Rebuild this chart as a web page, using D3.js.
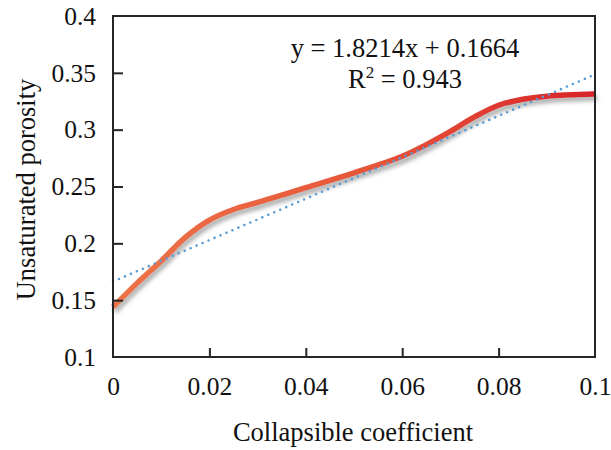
<!DOCTYPE html>
<html>
<head>
<meta charset="utf-8">
<script src="https://cdn.jsdelivr.net/npm/d3@7"></script>
<style>
  body { margin: 0; background: #fff; }
  svg { display: block; }
  svg text { font-family: "Liberation Serif", "Times New Roman", serif; fill: #111; }
</style>
</head>
<body>
<svg width="611" height="450"></svg>
<script>
// values
const coeff = [0, 0.005, 0.01, 0.015, 0.02, 0.025, 0.03, 0.04, 0.05, 0.06, 0.065, 0.07, 0.075, 0.08, 0.085, 0.09, 0.1];
const porosity = [0.144, 0.165, 0.1845, 0.2053, 0.2205, 0.2298, 0.236, 0.249, 0.262, 0.2766, 0.2868, 0.2985, 0.3112, 0.3215, 0.3268, 0.3295, 0.3313];
const xTicks = [0, 0.02, 0.04, 0.06, 0.08, 0.1];
const yTicks = [0.1, 0.15, 0.2, 0.25, 0.3, 0.35, 0.4];
const slope = 1.8214, intercept = 0.1664;

const svg = d3.select("svg");
const plotL = 113, plotR = 595, plotT = 16, plotB = 357;

const x = d3.scaleLinear().domain([0, 0.1]).range([plotL, plotR]);
const y = d3.scaleLinear().domain([0.1, 0.4]).range([plotB, plotT]);

const defs = svg.append("defs");

// shadow under the curve
const shadow = defs.append("filter").attr("id", "shadow")
  .attr("x", "-10%").attr("y", "-10%").attr("width", "120%").attr("height", "130%");
shadow.append("feDropShadow")
  .attr("dx", 2).attr("dy", 4).attr("stdDeviation", 2)
  .attr("flood-color", "#808080").attr("flood-opacity", 0.65);

// orange -> red along x
const grad = defs.append("linearGradient").attr("id", "lineGrad")
  .attr("gradientUnits", "userSpaceOnUse")
  .attr("x1", x(0)).attr("x2", x(0.1)).attr("y1", 0).attr("y2", 0);
grad.append("stop").attr("offset", "0%").attr("stop-color", "#ee7448");
grad.append("stop").attr("offset", "55%").attr("stop-color", "#e65438");
grad.append("stop").attr("offset", "100%").attr("stop-color", "#d8232a");

// main curve
const line = d3.line()
  .curve(d3.curveCatmullRom.alpha(0.5))
  .x((d, i) => x(coeff[i]))
  .y(d => y(d));

svg.append("path")
  .attr("d", line(porosity))
  .attr("fill", "none")
  .attr("stroke", "url(#lineGrad)")
  .attr("stroke-width", 5.5)
  .attr("stroke-linecap", "butt")
  .attr("filter", "url(#shadow)");

// linear trendline (dotted)
svg.append("line")
  .attr("x1", x(0)).attr("y1", y(intercept))
  .attr("x2", x(0.1)).attr("y2", y(slope * 0.1 + intercept))
  .attr("stroke", "#5b9bd5")
  .attr("stroke-width", 2.6)
  .attr("stroke-linecap", "round")
  .attr("stroke-dasharray", "0,6.5");

// frame
svg.append("rect")
  .attr("x", plotL).attr("y", plotT)
  .attr("width", plotR - plotL).attr("height", plotB - plotT)
  .attr("fill", "none").attr("stroke", "#262626").attr("stroke-width", 2);

// inward ticks
const fmt = d => String(+d.toFixed(2));
const gy = svg.append("g").attr("transform", `translate(${plotL},0)`)
  .call(d3.axisLeft(y).tickValues(yTicks).tickSize(-10).tickPadding(17).tickFormat(fmt));
const gx = svg.append("g").attr("transform", `translate(0,${plotB})`)
  .call(d3.axisBottom(x).tickValues(xTicks).tickSize(-9).tickPadding(20).tickFormat(fmt));

[gx, gy].forEach(g => {
  g.attr("font-family", null).attr("font-size", null);
  g.select(".domain").remove();
  g.selectAll("line").attr("stroke", "#262626").attr("stroke-width", 2);
  g.selectAll("text").attr("font-size", "25.5px");
});
gy.selectAll(".tick").filter(d => d === 0.1 || d === 0.4).select("line").remove();
gx.selectAll(".tick").filter(d => d === 0 || d === 0.1).select("line").remove();

// axis titles
svg.append("text")
  .attr("x", (plotL + plotR) / 2 - 1).attr("y", 441)
  .attr("text-anchor", "middle").attr("font-size", "26.5px")
  .text("Collapsible coefficient");

svg.append("text")
  .attr("transform", `translate(35,${(plotT + plotB) / 2 + 3}) rotate(-90)`)
  .attr("text-anchor", "middle").attr("font-size", "26.5px")
  .text("Unsaturated porosity");

// equation label
const eq = svg.append("g").attr("font-size", "26.5px");
eq.append("text").attr("x", 405).attr("y", 57).attr("text-anchor", "middle")
  .text(`y = ${slope}x + ${intercept}`);
const r2 = eq.append("text").attr("x", 405).attr("y", 88).attr("text-anchor", "middle");
r2.append("tspan").text("R");
r2.append("tspan").attr("dy", -10).attr("font-size", "17px").text("2");
r2.append("tspan").attr("dy", 10).text(" = 0.943");
</script>
</body>
</html>
